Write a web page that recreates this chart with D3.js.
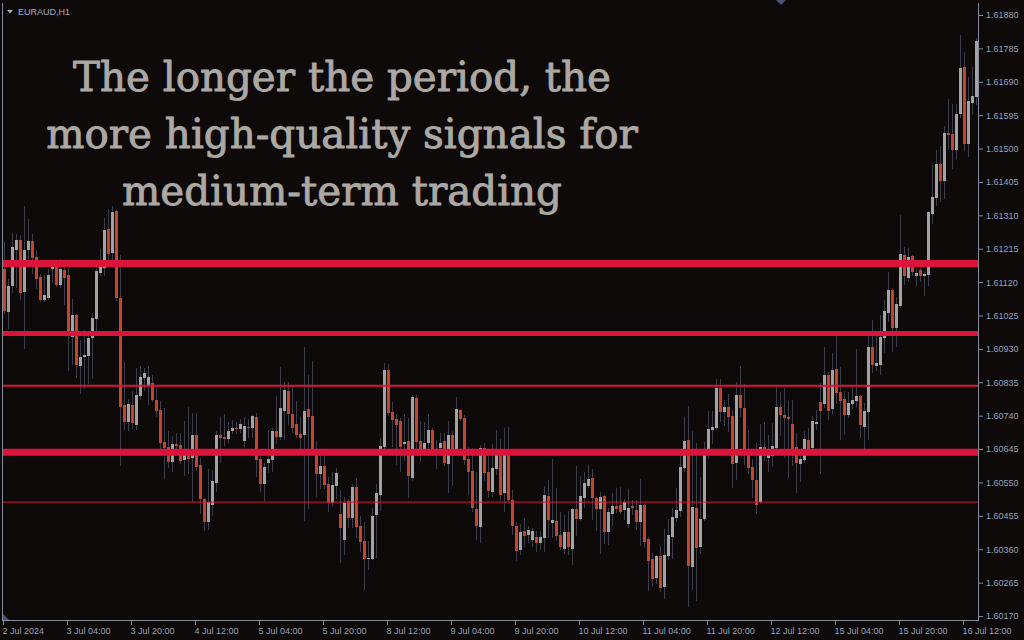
<!DOCTYPE html>
<html lang="en">
<head>
<meta charset="utf-8">
<title>EURAUD,H1</title>
<script src="https://cdnjs.cloudflare.com/ajax/libs/d3/7.8.5/d3.min.js"></script>
<style>
  html, body { margin: 0; padding: 0; background: #0d0a09; }
  svg { display: block; }
</style>
</head>
<body>
<script>
// EURAUD H1 candles, 2 Jul 12:00 -> 16 Jul 15:00
const open = [1.61157,1.61035,1.61109,1.61211,1.61240,1.61092,1.61211,1.61237,1.61191,1.61134,1.61069,1.61075,1.61157,1.61171,1.61112,1.61154,1.61140,1.60964,1.61026,1.60881,1.60907,1.60910,1.60961,1.61015,1.61146,1.61160,1.61271,1.61203,1.61322,1.61075,
  1.60770,1.60722,1.60770,1.60713,1.60796,1.60847,1.60824,1.60833,1.60785,1.60756,1.60665,1.60651,1.60608,1.60659,1.60657,1.60614,1.60628,1.60620,1.60685,1.60600,1.60503,1.60437,1.60486,1.60548,1.60685,1.60679,1.60674,1.60696,1.60705,1.60702,
  1.60668,1.60708,1.60705,1.60736,1.60617,1.60546,1.60605,1.60614,1.60696,1.60679,1.60753,1.60810,1.60745,1.60716,1.60688,1.60685,1.60759,1.60739,1.60639,1.60574,1.60597,1.60546,1.60491,1.60540,1.60460,1.60386,1.60497,1.60449,1.60537,1.60426,
  1.60383,1.60332,1.60332,1.60457,1.60514,1.60651,1.60870,1.60750,1.60730,1.60725,1.60659,1.60668,1.60563,1.60790,1.60668,1.60634,1.60662,1.60699,1.60628,1.60648,1.60668,1.60602,1.60685,1.60645,1.60756,1.60733,1.60617,1.60583,1.60474,1.60423,
  1.60648,1.60580,1.60523,1.60588,1.60637,1.60520,1.60637,1.60500,1.60426,1.60358,1.60412,1.60400,1.60386,1.60395,1.60378,1.60392,1.60511,1.60435,1.60440,1.60400,1.60361,1.60409,1.60361,1.60474,1.60446,1.60506,1.60540,1.60563,1.60506,1.60474,
  1.60511,1.60409,1.60460,1.60483,1.60486,1.60471,1.60432,1.60483,1.60471,1.60437,1.60486,1.60389,1.60332,1.60278,1.60341,1.60252,1.60341,1.60395,1.60449,1.60469,1.60591,1.60671,1.60309,1.60477,1.60366,1.60446,1.60628,1.60699,1.60705,1.60819,
  1.60750,1.60765,1.60739,1.60605,1.60799,1.60762,1.60637,1.60594,1.60557,1.60494,1.60651,1.60620,1.60625,1.60648,1.60765,1.60742,1.60736,1.60716,1.60651,1.60602,1.60614,1.60671,1.60648,1.60716,1.60779,1.60773,1.60856,1.60759,1.60873,1.60807,
  1.60787,1.60742,1.60773,1.60782,1.60796,1.60708,1.60750,1.60935,1.60881,1.60884,1.60961,1.61032,1.61097,1.60989,1.61052,1.61197,1.61132,1.61194,1.61137,1.61154,1.61137,1.61140,1.61314,1.61359,1.61456,1.61408,1.61544,1.61541,1.61496,1.61598,
  1.61732,1.61513,1.61630,1.61647];
const high = [1.61234,1.61129,1.61260,1.61257,1.61254,1.61336,1.61299,1.61257,1.61211,1.61143,1.61140,1.61157,1.61183,1.61177,1.61186,1.61183,1.61177,1.61072,1.61029,1.60955,1.60984,1.60975,1.61032,1.61177,1.61214,1.61302,1.61328,1.61336,1.61325,1.61197,
  1.60893,1.60787,1.60810,1.60876,1.60881,1.60876,1.60881,1.60856,1.60819,1.60782,1.60762,1.60696,1.60682,1.60691,1.60691,1.60725,1.60765,1.60748,1.60748,1.60620,1.60506,1.60588,1.60585,1.60696,1.60736,1.60745,1.60722,1.60728,1.60722,1.60730,
  1.60736,1.60730,1.60742,1.60748,1.60645,1.60605,1.60699,1.60705,1.60796,1.60878,1.60836,1.60836,1.60827,1.60782,1.60736,1.60935,1.60856,1.60895,1.60668,1.60628,1.60637,1.60565,1.60580,1.60591,1.60528,1.60509,1.60503,1.60546,1.60563,1.60454,
  1.60437,1.60383,1.60477,1.60546,1.60676,1.60890,1.60887,1.60779,1.60745,1.60733,1.60745,1.60733,1.60799,1.60799,1.60725,1.60722,1.60745,1.60705,1.60671,1.60691,1.60691,1.60725,1.60696,1.60793,1.60759,1.60742,1.60651,1.60648,1.60580,1.60657,
  1.60662,1.60637,1.60659,1.60699,1.60674,1.60705,1.60708,1.60528,1.60437,1.60432,1.60449,1.60426,1.60420,1.60412,1.60412,1.60540,1.60557,1.60617,1.60534,1.60466,1.60457,1.60469,1.60477,1.60597,1.60568,1.60580,1.60600,1.60588,1.60509,1.60523,
  1.60514,1.60477,1.60520,1.60534,1.60537,1.60503,1.60531,1.60500,1.60500,1.60560,1.60489,1.60395,1.60349,1.60344,1.60369,1.60417,1.60446,1.60477,1.60534,1.60628,1.60736,1.60767,1.60696,1.60662,1.60565,1.60665,1.60753,1.60753,1.60844,1.60844,
  1.60785,1.60802,1.60756,1.60836,1.60881,1.60830,1.60699,1.60617,1.60662,1.60716,1.60722,1.60685,1.60719,1.60822,1.60807,1.60819,1.60782,1.60785,1.60691,1.60637,1.60696,1.60705,1.60739,1.60756,1.60833,1.60935,1.60864,1.60918,1.60975,1.60878,
  1.60810,1.60807,1.60824,1.60930,1.60799,1.60776,1.60978,1.61012,1.60969,1.61026,1.61069,1.61149,1.61103,1.61078,1.61311,1.61220,1.61217,1.61197,1.61160,1.61177,1.61152,1.61322,1.61453,1.61496,1.61507,1.61564,1.61641,1.61627,1.61627,1.61823,
  1.61775,1.61704,1.61732,1.61815];
const low = [1.61032,1.60989,1.61092,1.61106,1.61072,1.60932,1.61177,1.61146,1.61103,1.61066,1.61066,1.61072,1.61120,1.61109,1.61106,1.61058,1.60870,1.60887,1.60850,1.60804,1.60819,1.60833,1.60847,1.60984,1.61140,1.61140,1.61186,1.61177,1.61069,1.60600,
  1.60702,1.60699,1.60705,1.60702,1.60787,1.60813,1.60773,1.60782,1.60739,1.60634,1.60563,1.60594,1.60583,1.60648,1.60605,1.60571,1.60577,1.60497,1.60585,1.60463,1.60415,1.60417,1.60457,1.60526,1.60608,1.60657,1.60665,1.60691,1.60691,1.60694,
  1.60654,1.60679,1.60679,1.60568,1.60526,1.60500,1.60580,1.60583,1.60662,1.60674,1.60674,1.60716,1.60694,1.60679,1.60639,1.60443,1.60477,1.60637,1.60511,1.60534,1.60534,1.60469,1.60483,1.60506,1.60324,1.60346,1.60423,1.60423,1.60395,1.60355,
  1.60247,1.60304,1.60332,1.60338,1.60471,1.60645,1.60742,1.60654,1.60602,1.60583,1.60614,1.60509,1.60557,1.60642,1.60611,1.60628,1.60651,1.60628,1.60591,1.60634,1.60600,1.60523,1.60543,1.60642,1.60728,1.60602,1.60517,1.60469,1.60389,1.60380,
  1.60557,1.60509,1.60511,1.60574,1.60500,1.60469,1.60497,1.60403,1.60329,1.60346,1.60369,1.60380,1.60369,1.60355,1.60361,1.60355,1.60395,1.60395,1.60386,1.60361,1.60349,1.60346,1.60318,1.60400,1.60443,1.60480,1.60537,1.60446,1.60415,1.60349,
  1.60378,1.60375,1.60429,1.60466,1.60463,1.60446,1.60423,1.60460,1.60417,1.60372,1.60366,1.60244,1.60255,1.60264,1.60241,1.60221,1.60332,1.60335,1.60440,1.60454,1.60583,1.60198,1.60247,1.60216,1.60349,1.60443,1.60620,1.60662,1.60702,1.60725,
  1.60713,1.60696,1.60537,1.60560,1.60739,1.60602,1.60577,1.60509,1.60463,1.60491,1.60614,1.60583,1.60597,1.60642,1.60685,1.60622,1.60565,1.60600,1.60523,1.60554,1.60608,1.60634,1.60639,1.60702,1.60577,1.60765,1.60730,1.60745,1.60776,1.60674,
  1.60688,1.60736,1.60762,1.60767,1.60679,1.60631,1.60674,1.60864,1.60870,1.60858,1.60921,1.61009,1.60924,1.60938,1.61049,1.61115,1.61123,1.61140,1.61112,1.61123,1.61083,1.61112,1.61288,1.61339,1.61351,1.61359,1.61499,1.61445,1.61473,1.61590,
  1.61496,1.61479,1.61598,1.61627];
const close = [1.61038,1.61109,1.61220,1.61240,1.61089,1.61211,1.61237,1.61189,1.61129,1.61069,1.61083,1.61140,1.61163,1.61112,1.61157,1.61132,1.60967,1.61026,1.60884,1.60907,1.60913,1.60961,1.61018,1.61152,1.61163,1.61268,1.61200,1.61319,1.61075,1.60765,
  1.60722,1.60773,1.60719,1.60799,1.60850,1.60861,1.60850,1.60785,1.60753,1.60662,1.60648,1.60608,1.60659,1.60654,1.60611,1.60628,1.60617,1.60685,1.60594,1.60503,1.60437,1.60494,1.60554,1.60685,1.60676,1.60674,1.60696,1.60705,1.60702,1.60716,
  1.60711,1.60705,1.60739,1.60614,1.60546,1.60594,1.60617,1.60696,1.60679,1.60762,1.60813,1.60745,1.60705,1.60685,1.60676,1.60753,1.60736,1.60642,1.60574,1.60597,1.60543,1.60491,1.60543,1.60577,1.60420,1.60491,1.60449,1.60537,1.60423,1.60380,
  1.60332,1.60335,1.60454,1.60520,1.60654,1.60870,1.60748,1.60728,1.60713,1.60651,1.60665,1.60568,1.60793,1.60665,1.60631,1.60662,1.60699,1.60637,1.60634,1.60662,1.60605,1.60685,1.60645,1.60759,1.60730,1.60614,1.60580,1.60477,1.60426,1.60648,
  1.60577,1.60526,1.60591,1.60634,1.60514,1.60634,1.60500,1.60426,1.60355,1.60409,1.60398,1.60415,1.60412,1.60378,1.60395,1.60514,1.60443,1.60443,1.60398,1.60366,1.60409,1.60366,1.60474,1.60446,1.60511,1.60548,1.60560,1.60506,1.60474,1.60509,
  1.60409,1.60466,1.60483,1.60474,1.60466,1.60494,1.60477,1.60477,1.60437,1.60486,1.60380,1.60326,1.60275,1.60341,1.60250,1.60344,1.60400,1.60452,1.60471,1.60594,1.60668,1.60312,1.60480,1.60363,1.60446,1.60631,1.60702,1.60708,1.60819,1.60750,
  1.60765,1.60736,1.60602,1.60799,1.60762,1.60637,1.60591,1.60557,1.60486,1.60651,1.60625,1.60628,1.60654,1.60765,1.60742,1.60733,1.60730,1.60645,1.60605,1.60617,1.60674,1.60642,1.60725,1.60722,1.60753,1.60856,1.60753,1.60870,1.60804,1.60782,
  1.60742,1.60776,1.60785,1.60796,1.60713,1.60753,1.60935,1.60884,1.60890,1.60964,1.61038,1.61097,1.60989,1.61058,1.61200,1.61137,1.61191,1.61149,1.61146,1.61137,1.61143,1.61319,1.61362,1.61456,1.61408,1.61544,1.61539,1.61496,1.61598,1.61729,
  1.61513,1.61635,1.61650,1.61806];

// horizontal levels drawn on the chart
const levels = [1.61173, 1.60974, 1.60825, 1.60636, 1.60494];

// axis labels
const priceTicks = [1.61880,1.61785,1.61690,1.61595,1.61500,1.61405,1.61310,1.61215,1.61120,1.61025,1.60930,1.60835,1.60740,1.60645,1.60550,1.60455,1.60360,1.60265,1.60170];
const timeTickIndex = [0,16,32,48,64,80,96,112,128,144,160,176,192,208,224,240];
const timeLabels = ["2 Jul 2024","3 Jul 04:00","3 Jul 20:00","4 Jul 12:00","5 Jul 04:00","5 Jul 20:00","8 Jul 12:00","9 Jul 04:00","9 Jul 20:00","10 Jul 12:00","11 Jul 04:00","11 Jul 20:00","12 Jul 12:00","15 Jul 04:00","15 Jul 20:00","16 Jul 12:00"];

const headline = ["The longer the period, the", "more high-quality signals for", "medium-term trading"];
const symbol = "EURAUD,H1";

const W = 1024, H = 640;
const axisX = 978, axisY = 620;
const bg = "#0d0a09", axisColor = "#858b9a", labelColor = "#98a2ba";

const svg = d3.select("body").append("svg")
  .attr("width", W)
  .attr("height", H)
  .style("background", bg);

svg.append("rect").attr("width", W).attr("height", H).attr("fill", bg);

const x = d3.scaleLinear().domain([0, close.length - 1]).range([4, 976]);
const y = d3.scaleLinear().domain([1.60170, 1.61880]).range([616, 15]);

// candles
const candles = svg.append("g").attr("shape-rendering", "crispEdges");
const idx = d3.range(close.length);

candles.selectAll("line.wick")
  .data(idx)
  .enter()
  .append("line")
  .attr("class", "wick")
  .attr("x1", i => Math.round(x(i)) + 0.5)
  .attr("x2", i => Math.round(x(i)) + 0.5)
  .attr("y1", i => Math.round(y(high[i])))
  .attr("y2", i => Math.round(y(low[i])) + 1)
  .attr("stroke", "#3b3d48")
  .attr("stroke-width", 1);

candles.selectAll("rect.body")
  .data(idx)
  .enter()
  .append("rect")
  .attr("class", "body")
  .attr("x", i => Math.round(x(i)) - 1)
  .attr("width", 3)
  .attr("y", i => Math.round(y(Math.max(open[i], close[i]))))
  .attr("height", i => Math.max(1, Math.round(y(Math.min(open[i], close[i]))) - Math.round(y(Math.max(open[i], close[i])))))
  .attr("fill", i => close[i] >= open[i] ? "#a3a3a3" : "#c5432f");

// support / resistance lines
const levelWidth = [7, 5, 2, 7, 1];
svg.append("g")
  .selectAll("line")
  .data(levels)
  .enter()
  .append("line")
  .attr("x1", 3)
  .attr("x2", axisX)
  .attr("y1", d => y(d))
  .attr("y2", d => y(d))
  .attr("stroke", "#dc143c")
  .attr("stroke-width", (d, i) => levelWidth[i]);

// frame
svg.append("line").attr("x1", 2.5).attr("x2", 2.5).attr("y1", 3).attr("y2", axisY)
  .attr("stroke", axisColor);
svg.append("line").attr("x1", axisX + 0.5).attr("x2", axisX + 0.5).attr("y1", 3).attr("y2", axisY + 0.5)
  .attr("stroke", axisColor);
svg.append("line").attr("x1", 2).attr("x2", axisX + 1).attr("y1", axisY + 0.5).attr("y2", axisY + 0.5)
  .attr("stroke", axisColor);

// price axis
const yAxis = d3.axisRight(y)
  .tickValues(priceTicks)
  .tickFormat(d3.format(".5f"))
  .tickSize(4)
  .tickPadding(3);

const gy = svg.append("g")
  .attr("transform", `translate(${axisX + 1},0)`)
  .call(yAxis);
gy.select(".domain").remove();
gy.selectAll("line").attr("stroke", axisColor);
gy.selectAll("text")
  .attr("fill", labelColor)
  .style("font-family", "'Liberation Sans', Arial, sans-serif")
  .style("font-size", "9px");

// time axis
const xAxis = d3.axisBottom(d3.scaleLinear().domain(x.domain()).range(x.range().map(v => v - 1)))
  .tickValues(timeTickIndex)
  .tickFormat((d, i) => timeLabels[i])
  .tickSize(4)
  .tickPadding(3);

const gx = svg.append("g")
  .attr("transform", `translate(0,${axisY + 1})`)
  .call(xAxis);
gx.select(".domain").remove();
gx.selectAll("line").attr("stroke", axisColor);
gx.selectAll("text")
  .attr("text-anchor", "start")
  .attr("x", -1)
  .attr("fill", labelColor)
  .style("font-family", "'Liberation Sans', Arial, sans-serif")
  .style("font-size", "9px");

// little markers of the terminal
svg.append("path").attr("d", "M3,614 L3,620 L9,620 Z").attr("fill", "#4e5275");
svg.append("path").attr("d", "M776,0 L786,0 L781,5 Z").attr("fill", "#4e5275");

// symbol caption
svg.append("path").attr("d", "M7,10 L13,10 L10,13.5 Z").attr("fill", "#a6aec4");
svg.append("text")
  .attr("x", 18)
  .attr("y", 15)
  .attr("fill", "#a6aec4")
  .style("font-family", "'Liberation Sans', Arial, sans-serif")
  .style("font-size", "9px")
  .text(symbol);

// headline
const head = svg.append("g")
  .attr("fill", "#aca8a4")
  .attr("stroke", "#aca8a4")
  .attr("stroke-width", 0.9)
  .attr("stroke-linejoin", "round")
  .style("font-family", "'DejaVu Serif', serif")
  .attr("text-anchor", "middle");

const hl = head.selectAll("text")
  .data(headline)
  .enter()
  .append("text")
  .attr("x", 342)
  .attr("y", (d, i) => 91 + i * 57)
  .style("font-size", "40px")
  .text(d => d);

// fit the widest line to the width it has in the picture
const w2 = hl.nodes()[1].getComputedTextLength();
const fs = 40 * 592 / w2;
hl.style("font-size", fs + "px");
</script>
</body>
</html>
